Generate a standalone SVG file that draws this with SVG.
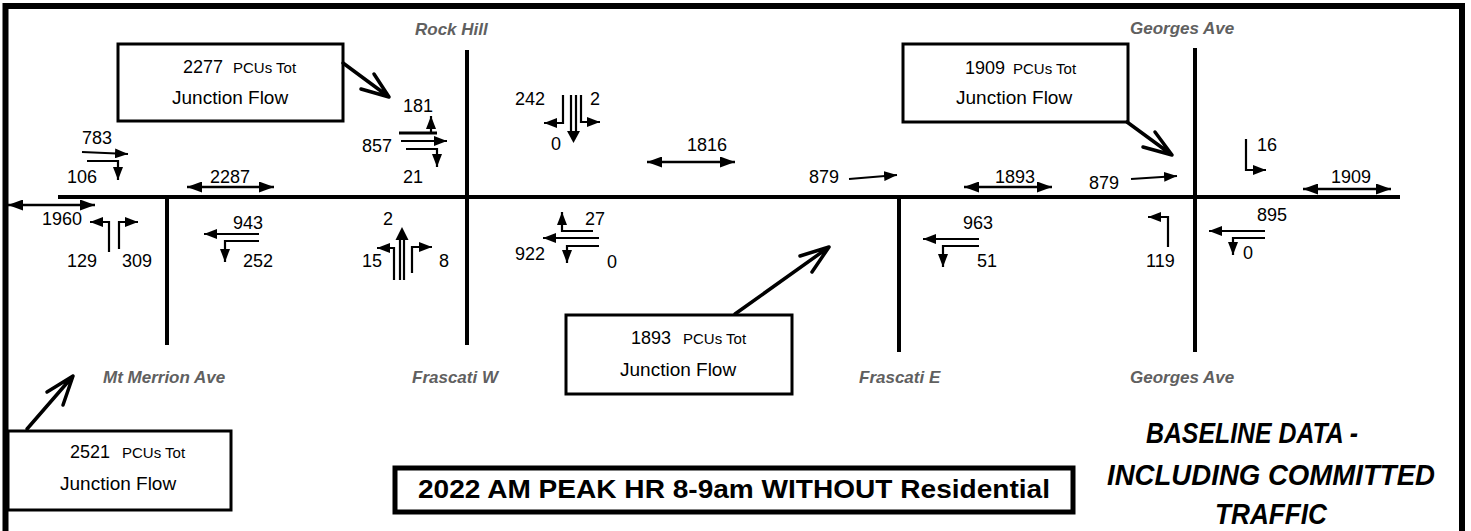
<svg xmlns="http://www.w3.org/2000/svg" width="1471" height="531" viewBox="0 0 1471 531">
<style>
.n{font-family:"Liberation Sans",Arial,sans-serif;font-size:18px;fill:#000}
.p{font-family:"Liberation Sans",Arial,sans-serif;font-size:15px;fill:#000}
.j{font-family:"Liberation Sans",Arial,sans-serif;font-size:19px;fill:#000}
.road{font-family:"Liberation Sans",Arial,sans-serif;font-size:17px;font-weight:bold;font-style:italic;fill:#606060}
.rd{stroke:#000;stroke-width:4;fill:none}
.t{stroke:#000;stroke-width:2.2;fill:none;marker-end:url(#a)}
.l{stroke:#000;stroke-width:2.2;fill:none}
.d{stroke:#000;stroke-width:2.4;fill:none;marker-start:url(#b);marker-end:url(#b)}
.box{fill:#fff;stroke:#000;stroke-width:3}
.co{stroke:#000;stroke-width:3.5;fill:none;stroke-linecap:round;stroke-linejoin:round}
.big{font-family:"Liberation Sans",Arial,sans-serif;font-size:29px;font-weight:bold;font-style:italic;fill:#000;text-anchor:middle}
</style>
<defs>
<marker id="a" viewBox="0 0 13 10" refX="13" refY="5" markerWidth="13" markerHeight="10" markerUnits="userSpaceOnUse" orient="auto-start-reverse"><path d="M0,0L13,5L0,10z" fill="#000"/></marker>
<marker id="b" viewBox="0 0 15 11" refX="15" refY="5.5" markerWidth="15" markerHeight="11" markerUnits="userSpaceOnUse" orient="auto-start-reverse"><path d="M0,0L15,5.5L0,11z" fill="#000"/></marker>
</defs>
<rect width="1471" height="531" fill="#fff"/>
<path d="M5.5,531V6H1462V531" fill="none" stroke="#000" stroke-width="6"/>

<g id="roads">
<path class="rd" d="M58,197H1400"/>
<path class="rd" d="M167,197V345"/>
<path class="rd" d="M467,50V345"/>
<path class="rd" d="M899,197V352"/>
<path class="rd" d="M1195,48V352"/>
<text class="road" x="415" y="35">Rock Hill</text>
<text class="road" x="1130" y="34">Georges Ave</text>
<text class="road" x="103" y="383">Mt Merrion Ave</text>
<text class="road" x="412" y="383">Frascati W</text>
<text class="road" x="859" y="383">Frascati E</text>
<text class="road" x="1130" y="383">Georges Ave</text>
</g>

<g id="junction-mt-merrion">
<text class="n" x="82" y="144">783</text>
<path class="t" d="M82,152L128,154"/>
<path class="t" d="M87,161H118V180"/>
<text class="n" x="67" y="183">106</text>
<path class="d" d="M187,187H274"/>
<text class="n" x="210" y="183">2287</text>
<path class="d" d="M8,205H95"/>
<text class="n" x="42" y="225">1960</text>
<path class="t" d="M109,252V222H90"/>
<path class="t" d="M119,249V222H138"/>
<text class="n" x="67" y="267">129</text>
<text class="n" x="122" y="267">309</text>
<text class="n" x="233" y="229">943</text>
<path class="t" d="M259,234H204"/>
<path class="t" d="M259,241H225V262"/>
<text class="n" x="243" y="267">252</text>
</g>

<g id="junction-rock-hill">
<text class="n" x="403" y="112">181</text>
<path d="M399,133H437" stroke="#000" stroke-width="3"/>
<path class="t" d="M431,133V116"/>
<text class="n" x="362" y="152">857</text>
<path class="t" d="M401,141H447"/>
<path class="t" d="M406,149H437V167"/>
<text class="n" x="403" y="183">21</text>
<text class="n" x="515" y="105">242</text>
<text class="n" x="590" y="105">2</text>
<path class="t" d="M563,95V123H544"/>
<path class="l" d="M571,95V134M576,95V134"/>
<path d="M567,131L573.5,143L580,131z" fill="#000"/>
<path class="t" d="M581,95V122H600"/>
<text class="n" x="551" y="150">0</text>
<text class="n" x="383" y="225">2</text>
<text class="n" x="362" y="267">15</text>
<text class="n" x="439" y="267">8</text>
<path class="t" d="M394,280V248H377"/>
<path class="l" d="M400,280V236M404,280V236"/>
<path d="M395.5,240L402,227L408.5,240z" fill="#000"/>
<path class="t" d="M412,273V247H432"/>
<text class="n" x="585" y="225">27</text>
<path class="t" d="M593,231H562V212"/>
<path class="t" d="M599,238H543"/>
<path class="t" d="M599,246H567V263"/>
<text class="n" x="515" y="260">922</text>
<text class="n" x="607" y="268">0</text>
</g>

<g id="link-middle">
<path class="d" d="M647,162H735"/>
<text class="n" x="687" y="151">1816</text>
<text class="n" x="809" y="183">879</text>
<path class="t" d="M849,179L897,175"/>
</g>

<g id="junction-frascati-e">
<path class="d" d="M964,187H1052"/>
<text class="n" x="995" y="183">1893</text>
<text class="n" x="963" y="229">963</text>
<path class="t" d="M979,239H923"/>
<path class="t" d="M979,246H943V267"/>
<text class="n" x="977" y="267">51</text>
</g>

<g id="junction-georges">
<text class="n" x="1089" y="189">879</text>
<path class="t" d="M1131,179L1177,176"/>
<path class="t" d="M1168,247V217H1148"/>
<text class="n" x="1146" y="267">119</text>
<path class="t" d="M1246,139V170H1266"/>
<text class="n" x="1257" y="151">16</text>
<path class="d" d="M1303,189H1391"/>
<text class="n" x="1331" y="183">1909</text>
<text class="n" x="1257" y="221">895</text>
<path class="t" d="M1265,231H1209"/>
<path class="t" d="M1265,238H1233V255"/>
<text class="n" x="1243" y="259">0</text>
</g>

<g id="callout-2277">
<rect class="box" x="118" y="44" width="225" height="77"/>
<text class="n" x="183" y="73">2277</text>
<text class="p" x="233" y="73">PCUs Tot</text>
<text class="j" x="172" y="104">Junction Flow</text>
</g>
<g id="callout-1909">
<rect class="box" x="903" y="44" width="225" height="78"/>
<text class="n" x="965" y="74">1909</text>
<text class="p" x="1013" y="74">PCUs Tot</text>
<text class="j" x="956" y="104">Junction Flow</text>
</g>
<g id="callout-1893">
<rect class="box" x="566" y="315" width="226" height="79"/>
<text class="n" x="631" y="344">1893</text>
<text class="p" x="683" y="344">PCUs Tot</text>
<text class="j" x="620" y="376">Junction Flow</text>
</g>
<g id="callout-2521">
<rect class="box" x="8" y="431" width="223" height="79"/>
<text class="n" x="70" y="458">2521</text>
<text class="p" x="122" y="458">PCUs Tot</text>
<text class="j" x="60" y="490">Junction Flow</text>
</g>

<g id="connectors">
<path class="co" d="M343,63L389,97M361,89L389,97L374,74"/>
<path class="co" d="M1127,122L1172,155M1143,147L1172,155L1155,132"/>
<path class="co" d="M735,314L829,247M800,256L829,247L812,272"/>
<path class="co" d="M27,429L73,376M47,392L73,376L63,405"/>
</g>

<g id="title">
<rect x="395" y="468" width="678" height="44" fill="#fff" stroke="#000" stroke-width="5"/>
<text x="734" y="498" text-anchor="middle" textLength="632" lengthAdjust="spacingAndGlyphs" style="font-family:'Liberation Sans',Arial,sans-serif;font-size:25px;font-weight:bold">2022 AM PEAK HR 8-9am WITHOUT Residential</text>
</g>

<g id="baseline-note">
<text class="big" x="1252" y="443" textLength="212" lengthAdjust="spacingAndGlyphs">BASELINE DATA -</text>
<text class="big" x="1271" y="485" textLength="328" lengthAdjust="spacingAndGlyphs">INCLUDING COMMITTED</text>
<text class="big" x="1271" y="524" textLength="112" lengthAdjust="spacingAndGlyphs">TRAFFIC</text>
</g>
</svg>
